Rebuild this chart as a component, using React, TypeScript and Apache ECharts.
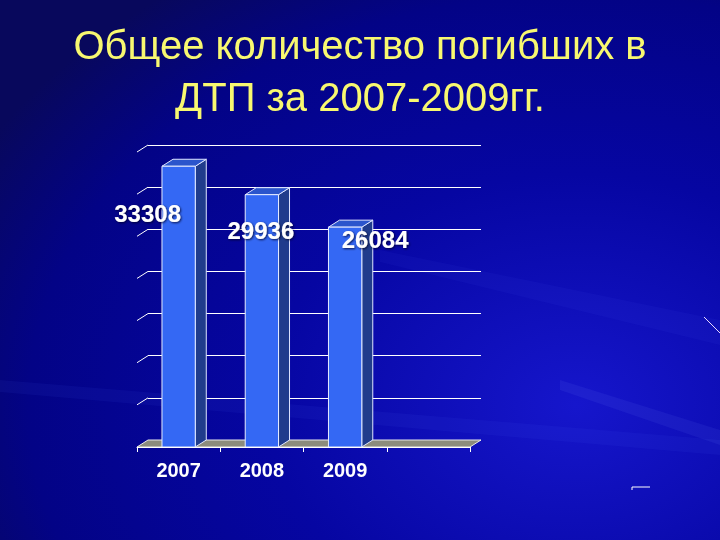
import React, { useEffect, useRef } from "react";
import * as echarts from "echarts";

const TITLE = "Общее количество погибших в\nДТП за 2007-2009гг.";
const categories = ["2007", "2008", "2009", ""];
const deaths = [33308, 29936, 26084];
const yTicks = [0, 5000, 10000, 15000, 20000, 25000, 30000, 35000];

const Y_MIN = 0;
const Y_MAX = 35000;
const Y_INTERVAL = 5000;

const DEPTH_X = 11;
const DEPTH_Y = -7;
const LABEL_OFFSETS = [
  [-31, 47],
  [-1, 36],
  [30, 12],
];

export default function App() {
  const ref = useRef<HTMLDivElement>(null);

  useEffect(() => {
    if (!ref.current) return;
    const chart = echarts.init(ref.current, null, { renderer: "svg" });

    const barData = deaths.map((v, i) => [i, v]);

    const option: any = {
      animation: false,
      backgroundColor: {
        type: "radial",
        x: 0.8,
        y: 0.75,
        r: 0.95,
        colorStops: [
          { offset: 0, color: "#1616cc" },
          { offset: 0.45, color: "#0606a2" },
          { offset: 0.8, color: "#030386" },
          { offset: 1, color: "#08085c" },
        ],
      },
      graphic: [
        {
          type: "polygon",
          silent: true,
          z: -10,
          shape: { points: [[0, 380], [720, 440], [720, 455], [0, 392]] },
          style: { fill: "rgba(90,110,255,0.07)" },
        },
        {
          type: "polygon",
          silent: true,
          z: -10,
          shape: { points: [[380, 250], [720, 320], [720, 345], [380, 262]] },
          style: { fill: "rgba(90,110,255,0.06)" },
        },
        {
          type: "polygon",
          silent: true,
          z: -10,
          shape: { points: [[560, 380], [720, 430], [720, 445], [560, 390]] },
          style: { fill: "rgba(120,140,255,0.09)" },
        },
        {
          type: "line",
          silent: true,
          shape: { x1: 704, y1: 317, x2: 720, y2: 333 },
          style: { stroke: "#e8d8ff", lineWidth: 1 },
        },
        {
          type: "polyline",
          silent: true,
          shape: { points: [[632, 490], [632, 487], [650, 487]] },
          style: { stroke: "#ffffff", lineWidth: 1, fill: "none" },
        },
        {
          type: "text",
          silent: true,
          x: 360,
          y: 19,
          z: 10,
          style: {
            text: TITLE,
            align: "center",
            verticalAlign: "top",
            fontFamily: "Liberation Sans, Arial, sans-serif",
            fontSize: 40,
            fontWeight: "normal",
            fill: "#F8F870",
            lineHeight: 52,
          },
        },
      ],
      grid: [
        { left: 137, right: 250, top: 152, bottom: 93 },
        { left: 148, right: 239, top: 145, bottom: 100 },
      ],
      xAxis: [
        {
          gridIndex: 0,
          type: "category",
          data: categories,
          axisLine: { show: true, lineStyle: { color: "#ffffff", width: 1 } },
          axisTick: { show: true, length: 5, lineStyle: { color: "#ffffff" } },
          axisLabel: {
            color: "#ffffff",
            fontFamily: "Liberation Sans, Arial, sans-serif",
            fontWeight: "bold",
            fontSize: 20,
            margin: 13,
          },
          splitLine: { show: false },
          z: 5,
        },
        {
          gridIndex: 1,
          type: "category",
          data: categories,
          show: false,
        },
      ],
      yAxis: [
        {
          gridIndex: 0,
          type: "value",
          min: Y_MIN,
          max: Y_MAX,
          interval: Y_INTERVAL,
          show: false,
          splitLine: { show: false },
        },
        {
          gridIndex: 1,
          type: "value",
          min: Y_MIN,
          max: Y_MAX,
          interval: Y_INTERVAL,
          axisLine: { show: false },
          axisTick: { show: false },
          axisLabel: { show: false },
          splitLine: { show: true, lineStyle: { color: "#ffffff", width: 1 } },
        },
      ],
      series: [
        {
          type: "custom",
          name: "frame",
          xAxisIndex: 0,
          yAxisIndex: 0,
          silent: true,
          z: 1,
          data: [[0, 0]],
          renderItem: (params: any, api: any) => {
            const band = api.size([1, 0])[0];
            const x0 = api.coord([0, 0])[0] - band / 2;
            const x1 = api.coord([categories.length - 1, 0])[0] + band / 2;
            const yb = api.coord([0, 0])[1];
            const children: any[] = [];
            children.push({
              type: "polygon",
              shape: {
                points: [
                  [x0, yb],
                  [x1, yb],
                  [x1 + DEPTH_X, yb + DEPTH_Y],
                  [x0 + DEPTH_X, yb + DEPTH_Y],
                ],
              },
              style: { fill: "#8c8c7c", stroke: "#e8e8e8", lineWidth: 1 },
            });
            yTicks.forEach((t) => {
              if (t === 0) return;
              const y = api.coord([0, t])[1];
              children.push({
                type: "line",
                shape: { x1: x0, y1: y, x2: x0 + DEPTH_X, y2: y + DEPTH_Y },
                style: { stroke: "#ffffff", lineWidth: 1 },
              });
            });
            return { type: "group", children };
          },
        },
        {
          type: "custom",
          name: "deaths",
          xAxisIndex: 0,
          yAxisIndex: 0,
          z: 3,
          data: barData,
          renderItem: (params: any, api: any) => {
            const idx = api.value(0);
            const val = api.value(1);
            const band = api.size([1, 0])[0];
            const w = band * 0.4;
            const base = api.coord([idx, 0]);
            const top = api.coord([idx, val]);
            const xl = base[0] - w / 2;
            const xr = base[0] + w / 2;
            const yt = top[1];
            const yb = base[1];
            const off = LABEL_OFFSETS[params.dataIndex] || [0, -20];
            return {
              type: "group",
              children: [
                {
                  type: "polygon",
                  shape: {
                    points: [
                      [xr, yt],
                      [xr + DEPTH_X, yt + DEPTH_Y],
                      [xr + DEPTH_X, yb + DEPTH_Y],
                      [xr, yb],
                    ],
                  },
                  style: { fill: "#203c8c", stroke: "#dfe6ff", lineWidth: 1 },
                },
                {
                  type: "polygon",
                  shape: {
                    points: [
                      [xl, yt],
                      [xr, yt],
                      [xr + DEPTH_X, yt + DEPTH_Y],
                      [xl + DEPTH_X, yt + DEPTH_Y],
                    ],
                  },
                  style: { fill: "#2b55cc", stroke: "#dfe6ff", lineWidth: 1 },
                },
                {
                  type: "rect",
                  shape: { x: xl, y: yt, width: xr - xl, height: yb - yt },
                  style: { fill: "#3468f4", stroke: "#e6ecff", lineWidth: 1 },
                },
                {
                  type: "text",
                  x: base[0] + off[0],
                  y: yt + off[1],
                  style: {
                    text: String(val),
                    fill: "#ffffff",
                    fontFamily: "Liberation Sans, Arial, sans-serif",
                    fontWeight: "bold",
                    fontSize: 24,
                    align: "center",
                    verticalAlign: "middle",
                    textShadowColor: "rgba(0,0,40,0.8)",
                    textShadowBlur: 2,
                    textShadowOffsetX: 1,
                    textShadowOffsetY: 1,
                  },
                },
              ],
            };
          },
        },
      ],
    };

    chart.setOption(option);
    return () => chart.dispose();
  }, []);

  return (
    <div
      ref={ref}
      style={{ position: "fixed", left: 0, top: 0, width: 720, height: 540 }}
    />
  );
}
